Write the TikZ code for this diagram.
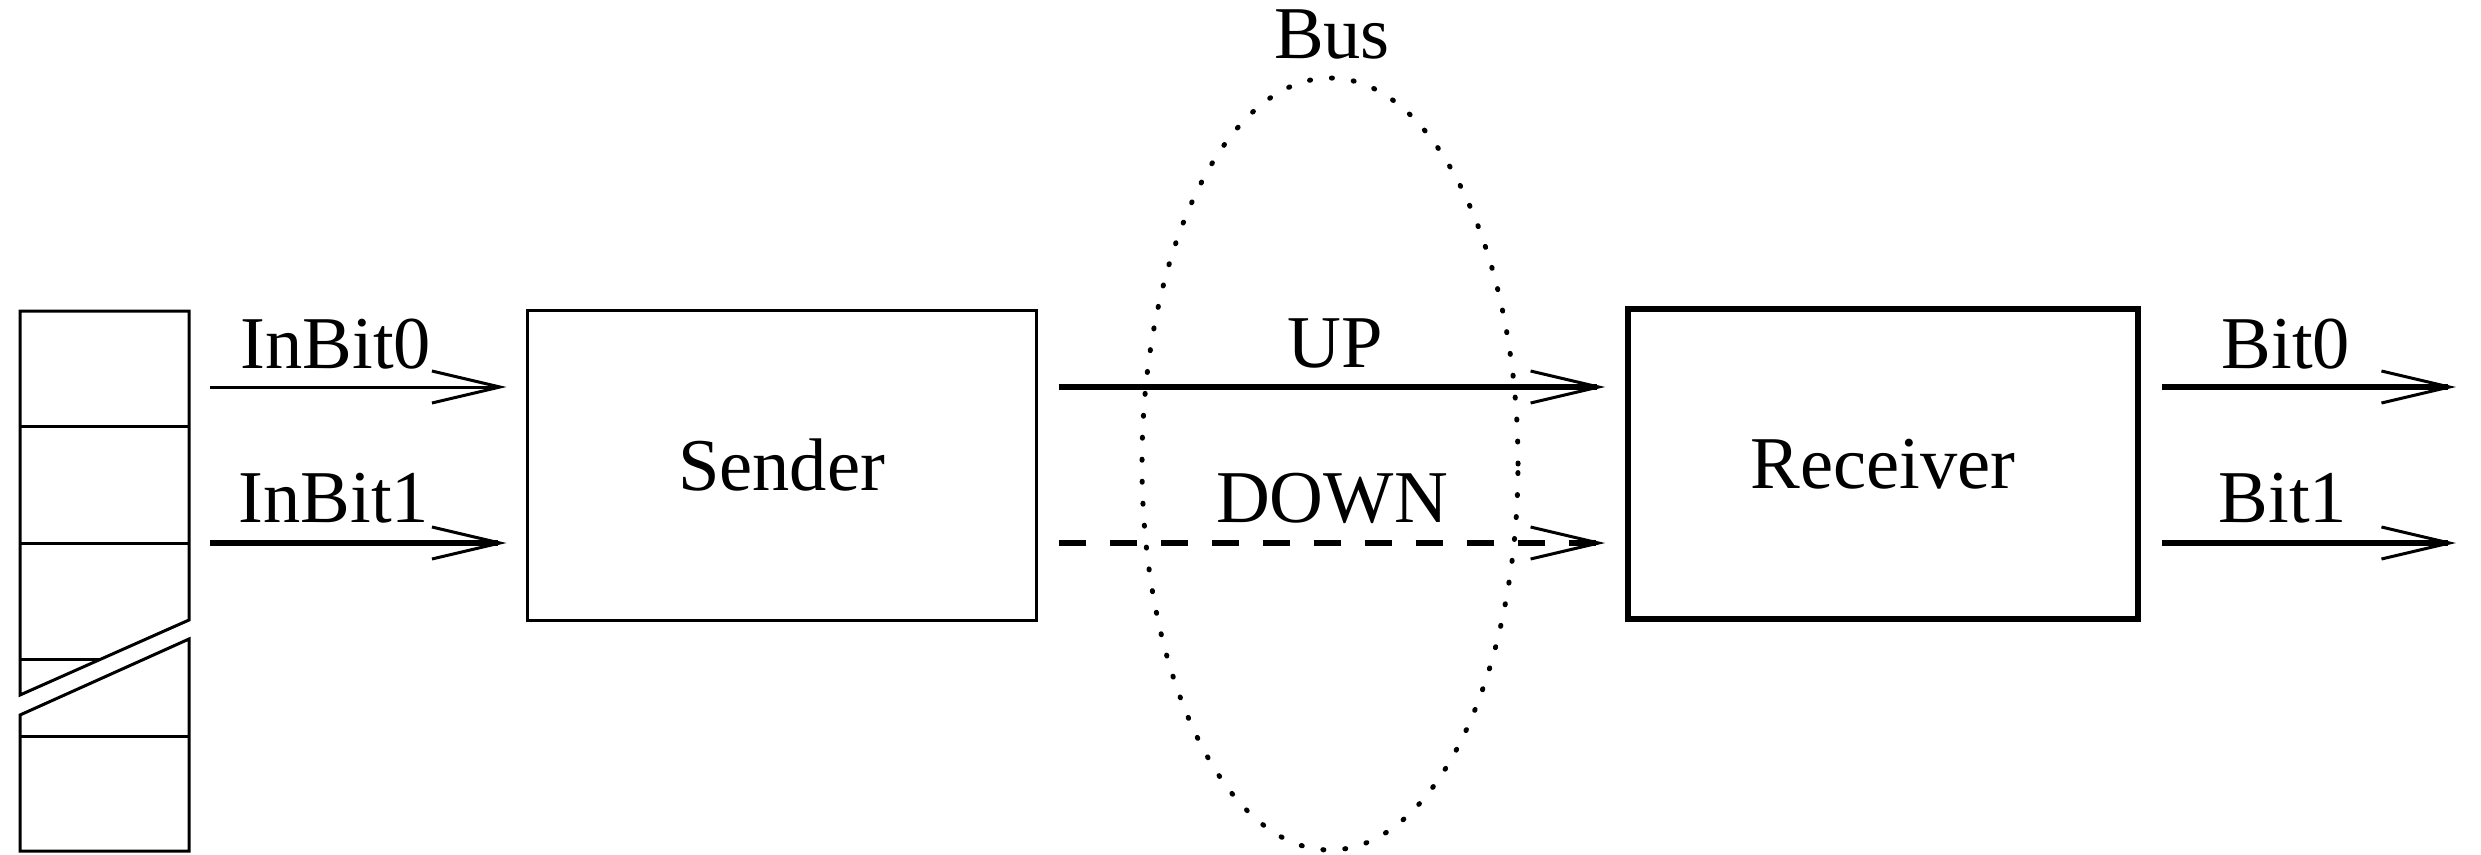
\documentclass[tikz,border=0pt]{standalone}
\usepackage{fontspec}
\setmainfont{Liberation Serif}
\usetikzlibrary{arrows.meta,shapes.geometric}
\begin{document}
\begin{tikzpicture}[x=0.2pt,y=-0.2pt,
  font=\fontsize{14.9}{18}\selectfont,
  thin line/.style={line width=0.6pt},
  thick line/.style={line width=1.14pt},
  >={Straight Barb[length=13.6pt,width=6.4pt,line width=0.6pt]},
  lbl/.style={anchor=base,inner sep=0pt},
  block/.style={draw,rectangle,inner sep=0pt,minimum width=#1*0.2pt,minimum height=62pt},
  busring/.style={draw,ellipse,line width=1pt,line cap=round,dash pattern=on 0.2pt off 4.2pt,minimum width=75.2pt,minimum height=154.4pt,inner sep=0pt}
]
\useasboundingbox (0,0) rectangle (2481,854);

% stack (register)
\draw[thin line] (20,695) -- (20,311) -- (189,311) -- (189,620) -- cycle;
\draw[thin line] (20,426) -- (189,426);
\draw[thin line] (20,543) -- (189,543);
\draw[thin line] (20,659) -- (101,659);
\draw[thin line] (20,715) -- (189,639) -- (189,851) -- (20,851) -- cycle;
\draw[thin line] (20,736) -- (189,736);

% blocks
\node[block=509,thin line] (sender) at (781.5,465.5) {Sender};
\node[block=510,thick line] (receiver) at (1883,464) {Receiver};
\node[busring] (bus) at (1330,464) {};
\node[lbl] (buslbl) at (1332,58) {Bus};

% inputs
\coordinate (in0) at (210,387);
\coordinate (in1) at (210,543);
\draw[thin line,->,shorten >=3.8pt] (in0) -- (sender.west |- in0);
\draw[thick line,->,shorten >=3.8pt] (in1) -- (sender.west |- in1);
\node[lbl] (lin0) at (336,368) {InBit0};
\node[lbl] (lin1) at (334,522) {InBit1};

% bus lines
\draw[thick line,->,shorten <=4.2pt,shorten >=4pt] (sender.east |- in0) -- (receiver.west |- in0);
\draw[thick line,->,shorten <=4.2pt,shorten >=4pt,dash pattern=on 5.4pt off 4.8pt] (sender.east |- in1) -- (receiver.west |- in1);
\node[lbl] (lup) at (1335,367) {UP};
\node[lbl] (ldown) at (1332,522) {DOWN};

% outputs
\coordinate (out0) at (2456,387);
\coordinate (out1) at (2456,543);
\draw[thick line,->,shorten <=4.2pt] (receiver.east |- out0) -- (out0);
\draw[thick line,->,shorten <=4.2pt] (receiver.east |- out1) -- (out1);
\node[lbl] (lb0) at (2286,368) {Bit0};
\node[lbl] (lb1) at (2283,522) {Bit1};
\end{tikzpicture}
\end{document}
